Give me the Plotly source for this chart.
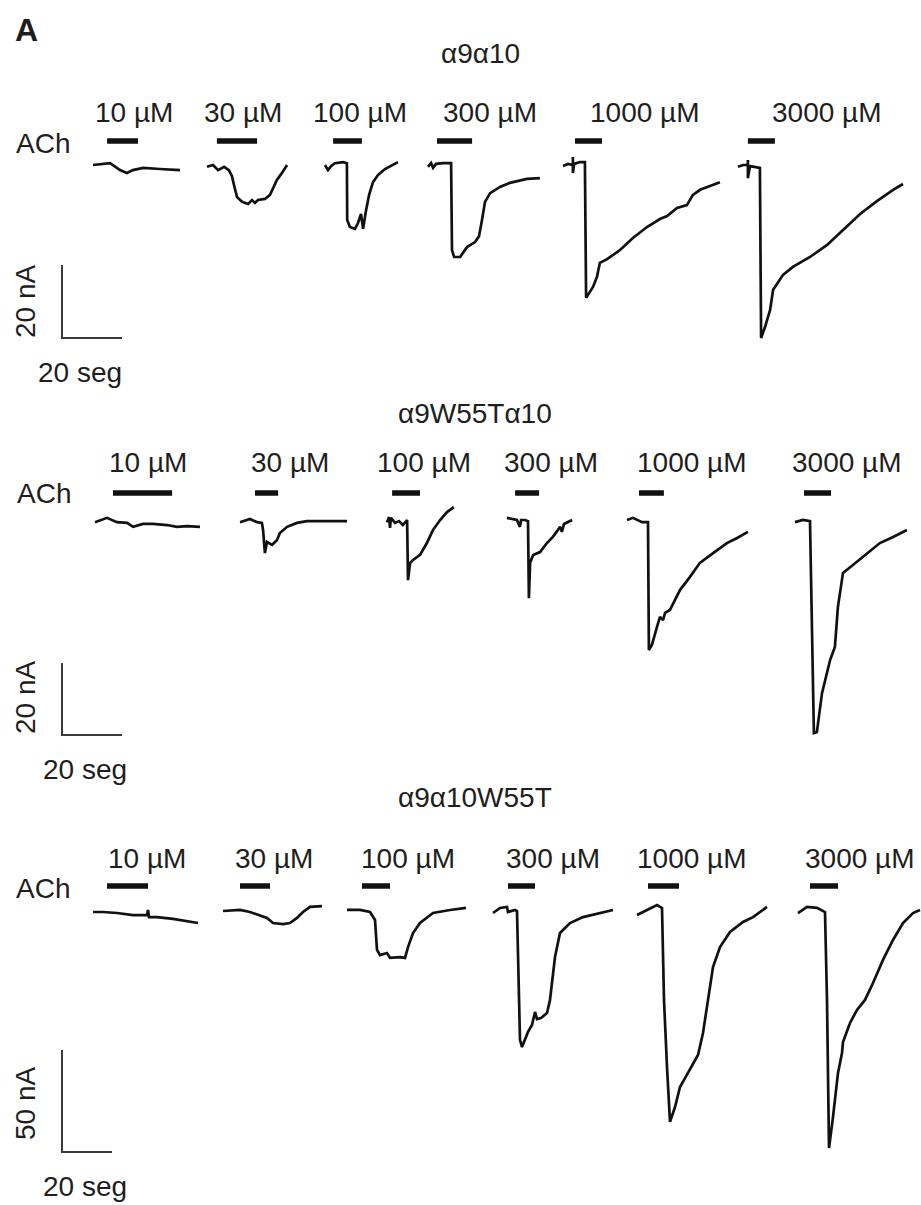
import plotly.graph_objects as go

# ---------------- data (time in s from trace start, current in nA) ----------------
conc_labels = ["10 µM", "30 µM", "100 µM", "300 µM", "1000 µM", "3000 µM"]
row_titles = ["α9α10", "α9W55Tα10", "α9α10W55T"]
scale_nA = [20, 20, 50]
scale_s = [20, 20, 20]

# α9α10
a9a10_time = [
    [0, 5.7, 9, 11.3, 13.3, 16.7, 22.3, 29],
    [0, 2, 3.7, 5.7, 7.3, 8.3, 9, 10, 11.7, 13.7, 15, 16, 17, 19.3, 21, 22.3, 23.3, 24.7, 26.7],
    [0, 1, 2, 3.3, 6, 7.3, 7.4, 8.3, 10, 11, 12, 12.7, 13.7, 14.7, 16, 17.7, 20, 21.7, 24.3],
    [0, 1, 1.7, 2.7, 5, 7.7, 8, 8.7, 10.7, 13, 15.7, 17, 18, 19, 20.7, 24, 27.3, 33, 37.3],
    [0, 1.7, 3.3, 3.3, 3.3, 3.7, 5.7, 7.3, 7.7, 10, 11.3, 12.3, 14.7, 19, 23.3, 28, 32.3, 34.7, 38, 41.3, 43.3, 45.7, 48, 50, 52.3],
    [0, 1.7, 3.3, 3.3, 3.3, 4, 6.7, 7.3, 7.7, 9, 10.7, 11.7, 13, 15, 18.3, 24, 29.7, 35, 40.7, 46.3, 51.7, 55],
]
a9a10_current = [
    [0, 0.5, -1.4, -2.2, -1.4, -0.8, -1.1, -1.4],
    [-0.5, 0, -1.4, -0.5, -1.4, -3, -5.5, -8.8, -10.1, -10.7, -9.6, -10.4, -9.6, -9.3, -8.2, -6, -4.1, -2.5, 0],
    [0, -1.4, -0.3, 0.5, 0.8, 0.5, -15.1, -17, -17.5, -15.9, -13.4, -17.5, -12.3, -8.2, -4.7, -2.7, -1.1, -0.3, 0.8],
    [-0.5, 0.5, -0.8, 0.3, 0.5, 0.5, -23.3, -25.2, -25.2, -22.5, -21.1, -19.5, -15.1, -10.1, -7.7, -6, -4.9, -3.8, -3.6],
    [-0.3, 0.3, 0, 2.2, -2.2, 0.3, 0.8, 0.8, -36.4, -33.4, -30.7, -26.8, -25.8, -23.3, -20, -17, -14.8, -14, -11.8, -11, -8.2, -6.8, -6, -5.5, -4.7],
    [-0.5, 0, 0, 1.4, -3.6, -0.3, -0.8, -0.8, -47.4, -44.4, -39.7, -34.2, -32.6, -30.1, -27.9, -25.2, -21.9, -17.8, -13.4, -9.9, -6.8, -5.2],
]
a9a10_ach = [[4.7, 15], [3.3, 16.7], [2.7, 12.3], [3, 14.7], [4, 13], [3.3, 12.3]]

# α9W55Tα10
a9w55t_time = [
    [0, 4, 7.3, 10.7, 12.7, 16, 19.3, 24, 27.3, 30.7, 35],
    [0, 3.3, 5.7, 7.3, 7.7, 8.3, 9, 10.7, 12.3, 13.3, 15.7, 19, 22.3, 35.7],
    [0, 0.7, 1, 1.3, 2.7, 4, 5.3, 6.7, 7, 7.7, 8.7, 11, 13.3, 15.3, 17.7, 20, 22.3],
    [0, 3.3, 4.3, 4.7, 6, 7, 7.3, 7.7, 8.7, 11, 13.3, 15.3, 16.7, 17.7, 18.3, 19, 21.7],
    [0, 2, 5, 7, 7.3, 8.3, 10, 11, 12, 12.7, 14.3, 17.7, 21, 24.3, 28.7, 33.3, 36.7, 40.3],
    [0, 2.7, 5, 6.3, 7.3, 9, 11.7, 13.3, 14.3, 16, 19.3, 24, 28.3, 32.7, 37.3],
]
a9w55t_current = [
    [-0.6, 0.6, -0.6, -0.8, -1.9, -1.1, -1.1, -1.4, -1.9, -1.7, -1.9],
    [-0.6, 0.3, -0.6, -0.8, -2.8, -9.2, -6.1, -6.9, -5.6, -3.6, -1.9, -0.8, -0.3, -0.3],
    [-0.6, 0.8, -2.2, 0.6, -0.8, -0.3, -1.4, 0, -16.7, -11.9, -11.1, -9.7, -6.4, -2.8, 0, 2.2, 3.6],
    [0.6, 0, -1.9, 0, 0, -0.3, -21.7, -11.9, -9.7, -8.9, -6.4, -4.7, -3.1, -1.9, -3.3, -1.1, 0],
    [0, 0.6, -0.6, -0.6, -36.1, -34.7, -29.7, -26.9, -27.8, -25.8, -25, -19.4, -15.8, -11.9, -9.2, -6.4, -5, -3.3],
    [-0.6, 0, -0.3, -59.2, -58.9, -48.1, -38.9, -35.3, -24.2, -14.7, -12.5, -9.2, -6.4, -4.7, -2.8],
]
a9w55t_ach = [[6, 25.7], [5, 12.7], [1.7, 11], [2.7, 10.7], [4, 12.3], [3, 12]]

# α9α10W55T
a10w55t_time = [
    [0, 4, 9.6, 16, 21.6, 22, 22.4, 25.6, 32, 37.6, 42],
    [0, 6.8, 10.8, 14.8, 17.6, 20, 24, 26.8, 29.6, 32, 34.8, 39.6],
    [0, 5.2, 9.2, 11.2, 12, 13.2, 16, 17.2, 21.2, 23.2, 24.4, 26.4, 29.2, 34.4, 41.2, 47.6],
    [0, 2.8, 5.6, 6, 8.8, 9.6, 10.8, 11.6, 14, 15.6, 16.8, 17.6, 19.2, 21.6, 22.8, 24.8, 26.8, 30.8, 36, 42.8, 48],
    [0, 4, 8, 10, 10.8, 12, 13.2, 15.2, 17.2, 19.2, 22.4, 24.4, 26.4, 28.4, 30.4, 33.2, 37.2, 42.4, 46.4, 52],
    [0, 3.6, 7.6, 10.8, 11.6, 12, 12.4, 14, 16, 17.6, 18, 20.8, 23.6, 26.8, 30, 34, 38, 42, 46, 48.8],
]
a10w55t_current = [
    [0, 0, -0.5, -1.5, -1.5, 1, -2.5, -2.5, -3.4, -4.4, -5.4],
    [0.5, 1, 0, -1.5, -2.9, -5.4, -5.9, -5.4, -2.9, 0, 2.5, 2.9],
    [1, 1, 0, -3.9, -18.6, -21.1, -20.1, -22.5, -22.1, -22.5, -17.2, -10.3, -5.4, -0.5, 1, 2],
    [-0.5, 2, 2.5, 0, 1, 0.5, -62.7, -66.2, -58.8, -55.4, -49, -52.5, -52, -49.5, -43.1, -22.1, -10.3, -5.4, -2.5, -0.5, 1],
    [-1.5, 1, 3.4, 2, -43.1, -76, -102.9, -95.6, -85.8, -81.4, -74, -70.1, -59.3, -43.1, -27, -17.2, -9.8, -4.9, -2.5, 2.5],
    [-0.5, 2.5, 2, 0, -43.1, -92.2, -115.7, -100.5, -78.9, -69.1, -63.7, -54.4, -48, -43.1, -34.8, -23.5, -13.7, -5.4, -0.5, 1],
]
a10w55t_ach = [[5.6, 22], [6.8, 18.8], [6, 17.2], [6, 16.8], [4.4, 16.8], [4.8, 16]]

rows_time = [a9a10_time, a9w55t_time, a10w55t_time]
rows_current = [a9a10_current, a9w55t_current, a10w55t_current]
rows_ach = [a9a10_ach, a9w55t_ach, a10w55t_ach]

# ---------------- layout (pixels of the 921x1205 page) ----------------
W, H = 921, 1205
px_per_s = [3.0, 3.0, 2.5]
px_per_nA = [3.65, 3.6, 2.04]
row_top = [0, 395, 790]
row_bot = [395, 790, 1205]
base_px = [165, 520, 912]
trace_x_px = [[93, 207, 325, 428, 563, 738],
              [95, 240, 387, 507, 627, 795],
              [93, 223, 347, 493, 637, 798]]
bar_y_px = [141, 493, 886]
label_y_px = [112, 463, 858]
label_x_px = [[134, 243, 360, 490, 645, 827],
              [148, 290, 424, 551, 692, 847],
              [147, 274, 408, 553, 692, 860]]
title_xy_px = [(480, 54), (475, 413), (475, 797)]
ach_xy_px = [(43, 143), (44, 493), (43, 888)]
scale_corner_px = [(62, 338), (62, 735), (62, 1152)]
scale_nA_label_px = [(25, 302), (25, 698), (25, 1104)]
scale_s_label_px = [(80, 372), (85, 770), (85, 1186)]

FONT = "Liberation Sans, Arial, sans-serif"
TXT = "#1e1e1e"

fig = go.Figure()
annotations = []


def ann(text, x, y, size=28, **kw):
    d = dict(text=text, x=x / W, y=1 - y / H, xref="paper", yref="paper",
             showarrow=False, xanchor="center", yanchor="middle",
             font=dict(family=FONT, size=size, color=TXT))
    d.update(kw)
    annotations.append(d)


for r in range(3):
    xa = "x" if r == 0 else f"x{r + 1}"
    ya = "y" if r == 0 else f"y{r + 1}"
    sp, sn, b = px_per_s[r], px_per_nA[r], base_px[r]
    for k in range(6):
        off = trace_x_px[r][k] / sp
        t = [off + v for v in rows_time[r][k]]
        fig.add_trace(go.Scatter(x=t, y=rows_current[r][k], mode="lines",
                                 line=dict(color="#111111", width=2.7),
                                 xaxis=xa, yaxis=ya, hoverinfo="skip"))
        on, offt = rows_ach[r][k]
        bar_level = (b - bar_y_px[r]) / sn
        fig.add_trace(go.Scatter(x=[off + on, off + offt], y=[bar_level, bar_level],
                                 mode="lines", line=dict(color="#111111", width=5.5),
                                 xaxis=xa, yaxis=ya, hoverinfo="skip"))
        ann(conc_labels[k], label_x_px[r][k], label_y_px[r])
    # scale bar
    cx = scale_corner_px[r][0] / sp
    cy = -(scale_corner_px[r][1] - b) / sn
    fig.add_trace(go.Scatter(x=[cx, cx, cx + scale_s[r]], y=[cy + scale_nA[r], cy, cy],
                             mode="lines", line=dict(color="#3a3a3a", width=2),
                             xaxis=xa, yaxis=ya, hoverinfo="skip"))
    ann(f"{scale_nA[r]} nA", *scale_nA_label_px[r], textangle=-90)
    ann(f"{scale_s[r]} seg", *scale_s_label_px[r])
    ann(row_titles[r], *title_xy_px[r])
    ann("ACh", *ach_xy_px[r])

    axis_common = dict(visible=False, fixedrange=True, showgrid=False, zeroline=False)
    fig.update_layout(**{
        ("xaxis" if r == 0 else f"xaxis{r + 1}"): dict(range=[0, W / sp], domain=[0, 1],
                                                       anchor=ya, **axis_common),
        ("yaxis" if r == 0 else f"yaxis{r + 1}"): dict(
            range=[-(row_bot[r] - b) / sn, (b - row_top[r]) / sn],
            domain=[1 - row_bot[r] / H, 1 - row_top[r] / H], anchor=xa, **axis_common),
    })

ann("<b>A</b>", 26, 30, size=32)

fig.update_layout(width=W, height=H, margin=dict(l=0, r=0, t=0, b=0),
                  paper_bgcolor="white", plot_bgcolor="white", showlegend=False,
                  annotations=annotations)

fig.write_html("out.html", config={"displayModeBar": False},
               post_script="document.body.style.margin='0';document.body.style.overflow='hidden';")
